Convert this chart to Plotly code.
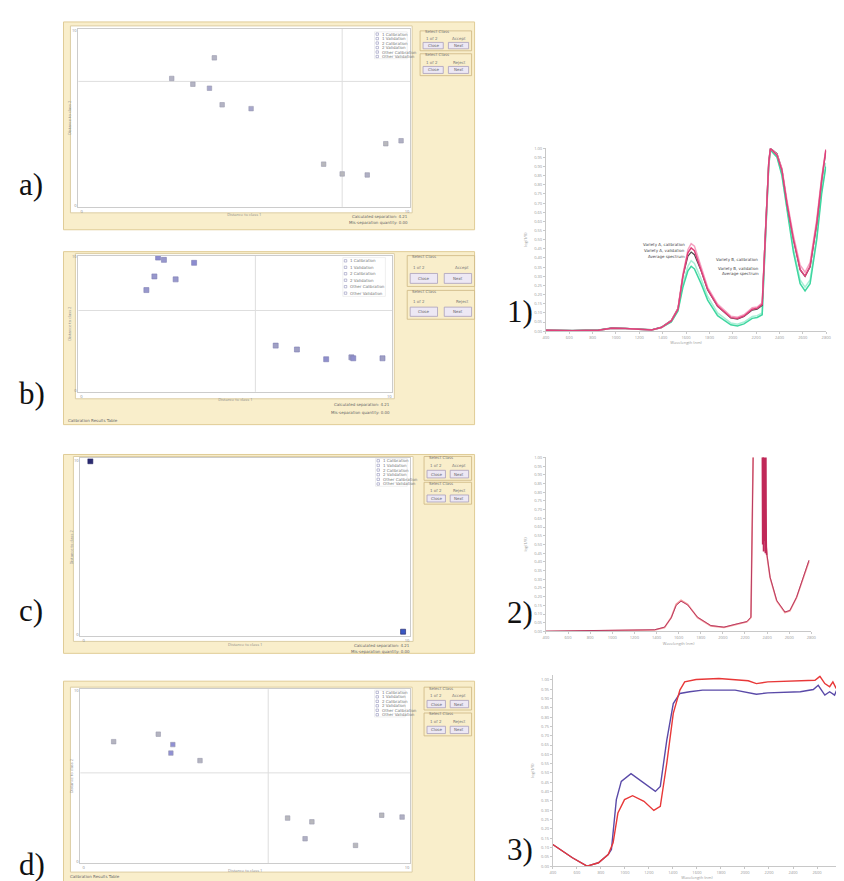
import plotly.graph_objects as go

W, H = 844, 881

# ------------------------------------------------------------------ data
classes = ["1 Calibration", "1 Validation", "2 Calibration", "2 Validation",
           "Other Calibration", "Other Validation"]

# scatter panels: distance to class 1 (x) vs distance to class 2 (y)
a_x = [2.77, 3.42, 3.93, 4.08, 4.32, 5.21, 7.44, 8.01, 8.78, 9.35, 9.82]
a_y = [7.26, 6.93, 6.70, 8.44, 5.75, 5.53, 2.35, 1.79, 1.73, 3.52, 3.69]
a_cls = [0, 0, 1, 0, 0, 1, 2, 2, 3, 2, 3]
a_lim = [8.01, 7.09]

b_x = [2.11, 2.37, 2.49, 2.68, 3.06, 3.66, 6.31, 7.00, 7.95, 8.77, 8.83, 9.78]
b_y = [7.52, 8.54, 9.95, 9.78, 8.32, 9.56, 3.36, 3.07, 2.34, 2.48, 2.41, 2.41]
b_cls = [0, 0, 1, 0, 0, 1, 2, 2, 3, 2, 3, 2]
b_lim = [5.65, 5.99]

c_x = [0.21, 9.88]
c_y = [9.94, 0.17]
c_cls = [0, 3]
c_lim = [None, None]

d_x = [0.93, 2.31, 2.76, 2.70, 3.60, 6.31, 7.06, 6.85, 8.41, 9.22, 9.85]
d_y = [7.02, 7.46, 6.85, 6.35, 5.91, 2.54, 2.32, 1.33, 0.94, 2.71, 2.60]
d_cls = [0, 0, 1, 1, 0, 2, 2, 3, 2, 2, 3]
d_lim = [5.71, 5.19]

# spectrum 1
s1_x = [400, 626, 852, 965, 1078, 1192, 1305, 1389, 1474, 1531, 1573, 1616, 1644,
        1672, 1729, 1785, 1870, 1983, 2040, 2096, 2167, 2209, 2252, 2280, 2308,
        2322, 2379, 2421, 2464, 2520, 2577, 2619, 2662, 2719, 2761, 2797]
s1_magenta = [0.005, 0.002, 0.005, 0.016, 0.014, 0.011, 0.007, 0.020, 0.056, 0.120,
              0.301, 0.428, 0.455, 0.440, 0.337, 0.228, 0.138, 0.074, 0.069, 0.083,
              0.120, 0.125, 0.147, 0.554, 0.917, 0.998, 0.962, 0.880, 0.699, 0.500,
              0.337, 0.301, 0.355, 0.591, 0.826, 0.989]
s1_pink = [0.005, 0.002, 0.005, 0.016, 0.014, 0.011, 0.007, 0.020, 0.058, 0.125,
           0.310, 0.445, 0.478, 0.465, 0.355, 0.240, 0.148, 0.082, 0.076, 0.090,
           0.128, 0.132, 0.155, 0.560, 0.920, 0.998, 0.966, 0.890, 0.715, 0.520,
           0.360, 0.322, 0.375, 0.610, 0.840, 0.995]
s1_dark = [0.006, 0.004, 0.007, 0.018, 0.016, 0.012, 0.008, 0.022, 0.060, 0.125,
           0.300, 0.410, 0.432, 0.418, 0.330, 0.225, 0.135, 0.072, 0.066, 0.080,
           0.115, 0.120, 0.140, 0.560, 0.930, 1.000, 0.970, 0.885, 0.700, 0.500,
           0.335, 0.300, 0.350, 0.585, 0.820, 0.985]
s1_green = [0.005, 0.002, 0.005, 0.016, 0.014, 0.011, 0.007, 0.020, 0.050, 0.110,
            0.240, 0.330, 0.355, 0.340, 0.260, 0.170, 0.085, 0.035, 0.028, 0.040,
            0.070, 0.075, 0.090, 0.500, 0.900, 0.990, 0.950, 0.850, 0.660, 0.430,
            0.260, 0.220, 0.260, 0.500, 0.750, 0.900]
s1_lgreen = [0.005, 0.002, 0.005, 0.016, 0.014, 0.011, 0.007, 0.020, 0.052, 0.115,
             0.260, 0.355, 0.385, 0.370, 0.285, 0.190, 0.100, 0.045, 0.038, 0.050,
             0.080, 0.085, 0.100, 0.510, 0.905, 0.990, 0.955, 0.860, 0.675, 0.450,
             0.280, 0.240, 0.280, 0.520, 0.770, 0.920]

# spectrum 2
s2_x = [400, 937, 1384, 1473, 1533, 1578, 1622, 1682, 1771, 1891, 2010, 2129, 2218,
        2254, 2278, 2353, 2397, 2427, 2487, 2561, 2606, 2666, 2725, 2779]
s2_light = [0.000, 0.005, 0.008, 0.023, 0.080, 0.156, 0.179, 0.156, 0.080, 0.032,
            0.023, 0.042, 0.055, 0.080, 1.200, 1.200, 0.442, 0.309, 0.175, 0.109,
            0.118, 0.194, 0.309, 0.404]
s2_dark = [0.002, 0.006, 0.010, 0.025, 0.078, 0.150, 0.174, 0.152, 0.082, 0.034,
           0.025, 0.044, 0.057, 0.082, 1.200, 1.200, 0.450, 0.312, 0.178, 0.112,
           0.121, 0.196, 0.312, 0.410]
s2_band_x = [2356, 2360, 2364, 2368, 2372, 2376, 2380, 2384, 2388, 2392, 2396]
s2_band_y = [1.20, 0.50, 1.20, 0.46, 1.20, 0.52, 1.20, 0.45, 1.20, 0.48, 0.44]

# spectrum 3
s3r_x = [400, 481, 563, 685, 780, 861, 902, 942, 997, 1064, 1159, 1241, 1295, 1349,
         1403, 1458, 1498, 1593, 1783, 2027, 2095, 2190, 2461, 2583, 2624, 2665,
         2705, 2732, 2759, 2787, 2800]
s3r_y = [0.116, 0.080, 0.045, 0.000, 0.018, 0.062, 0.125, 0.285, 0.357, 0.378, 0.348,
         0.299, 0.321, 0.553, 0.820, 0.945, 0.989, 1.002, 1.007, 0.995, 0.980, 0.989,
         0.995, 0.998, 1.019, 0.980, 0.963, 0.989, 0.954, 1.007, 0.856]
s3b_x = [400, 481, 563, 685, 780, 861, 888, 929, 970, 1051, 1159, 1254, 1295, 1349,
         1403, 1458, 1539, 1647, 1918, 2095, 2190, 2461, 2569, 2610, 2665, 2705,
         2746, 2787, 2800]
s3b_y = [0.116, 0.080, 0.045, 0.000, 0.018, 0.062, 0.089, 0.357, 0.455, 0.496, 0.446,
         0.401, 0.428, 0.677, 0.873, 0.927, 0.936, 0.945, 0.945, 0.923, 0.930, 0.936,
         0.948, 0.971, 0.918, 0.936, 0.918, 0.980, 0.856]

spec_ticks = [400, 600, 800, 1000, 1200, 1400, 1600, 1800, 2000, 2200, 2400, 2600, 2800]

# ------------------------------------------------------------------ helpers
def fx(px):
    return px / W


def fy(py):
    return 1 - py / H


shapes = []
annots = []
TXT = "#8a8a8a"
BEIGE = "#f9eecb"
BEIGE_LINE = "#e0cc96"


def rect(x0, y0, x1, y1, fill, line, width=1):
    shapes.append(dict(type="rect", xref="paper", yref="paper",
                       x0=fx(x0), x1=fx(x1), y0=fy(y1), y1=fy(y0),
                       fillcolor=fill, line=dict(color=line, width=width),
                       layer="below"))


def text(px, py, s, size=4, color=TXT, xa="left", ya="middle", angle=0,
         family="DejaVu Sans"):
    annots.append(dict(x=fx(px), y=fy(py), xref="paper", yref="paper", text=s,
                       showarrow=False, xanchor=xa, yanchor=ya, textangle=angle,
                       font=dict(size=size, color=color, family=family)))


fig = go.Figure()

cls_symbol = {0: "square", 1: "square", 2: "square", 3: "square"}

panels = [
    dict(x=a_x, y=a_y, cls=a_cls, lim=a_lim, frame=(53, 11, 468, 220),
         white=(60, 15, 405, 203), axes=(68, 18, 403, 197), leg=(367, 21, 400, 48),
         ctrl=[(413, 20, 465, 40), (413, 43, 465, 65)], bottom=(403, [207, 213]),
         footer=None, label=("a)", 174), msize=4.5),
    dict(x=b_x, y=b_y, cls=b_cls, lim=b_lim, frame=(53, 242, 468, 416),
         white=(65, 244, 387, 390), axes=(68, 246, 385, 383), leg=(335, 248, 378, 287),
         ctrl=[(400, 246, 468, 277), (400, 281, 468, 310)], bottom=(385, [396, 404]),
         footer=(56, 412), label=("b)", 385), msize=5),
    dict(x=c_x, y=c_y, cls=c_cls, lim=c_lim, frame=(53, 446, 468, 646),
         white=(63, 448, 406, 634), axes=(70, 450, 403, 629), leg=(368, 450, 400, 478),
         ctrl=[(417, 448, 465, 472), (417, 474, 465, 496)], bottom=(405, [638, 644]),
         footer=None, label=("c)", 603), msize=5),
    dict(x=d_x, y=d_y, cls=d_cls, lim=d_lim, frame=(53, 674, 468, 881),
         white=(60, 680, 405, 866), axes=(70, 682, 403, 857), leg=(367, 683, 398, 710),
         ctrl=[(417, 680, 465, 703), (417, 706, 465, 729)], bottom=None,
         footer=(58, 870), label=("d)", 858), msize=4.5),
]
panel_colors = [
    {0: "#b4b4c4", 1: "#a8a8cc", 2: "#b8b8bc", 3: "#b0b0c4"},
    {0: "#9898cc", 1: "#8c8cd0", 2: "#a0a0c4", 3: "#9090cc"},
    {0: "#2a2a70", 1: "#2a2a70", 2: "#3050c0", 3: "#3a58c4"},
    {0: "#b4b4c0", 1: "#9090d4", 2: "#b8b8bc", 3: "#b0b0c4"},
]
panel_edges = ["#9a9aae", "#7e7eb4", "#202060", "#9a9aae"]

layout_axes = {}
for i, p in enumerate(panels, start=1):
    xa = "x" if i == 1 else f"x{i}"
    ya = "y" if i == 1 else f"y{i}"
    fr, wh, ax = p["frame"], p["white"], p["axes"]
    rect(*fr, BEIGE, BEIGE_LINE, 1)
    rect(*wh, "white", "#dccda4", 1)
    cmap = panel_colors[i - 1]
    fig.add_trace(go.Scatter(
        x=p["x"], y=p["y"], mode="markers", xaxis=xa, yaxis=ya, showlegend=False,
        marker=dict(symbol=[cls_symbol[c] for c in p["cls"]],
                    color=[cmap[c] for c in p["cls"]], size=p["msize"],
                    line=dict(width=0.6, color=panel_edges[i - 1]))))
    lx, ly = p["lim"]
    if lx is not None:
        shapes.append(dict(type="line", xref=xa, yref=f"{ya} domain", x0=lx, x1=lx,
                           y0=0, y1=1, line=dict(color="#dedede", width=1), layer="below"))
        shapes.append(dict(type="line", xref=f"{xa} domain", yref=ya, x0=0, x1=1,
                           y0=ly, y1=ly, line=dict(color="#dedede", width=1), layer="below"))
    key_x = "xaxis" if i == 1 else f"xaxis{i}"
    key_y = "yaxis" if i == 1 else f"yaxis{i}"
    layout_axes[key_x] = dict(
        domain=[fx(ax[0]), fx(ax[2])], anchor=ya, range=[-0.1, 10.1],
        showline=True, linecolor="#cccccc", mirror=True, showgrid=False,
        zeroline=False, tickvals=[0, 10], ticks="", tickfont=dict(size=4, color=TXT),
        title=dict(text="Distance to class 1", font=dict(size=4, color=TXT), standoff=0))
    layout_axes[key_y] = dict(
        domain=[fy(ax[3]), fy(ax[1])], anchor=xa, range=[-0.1, 10.1],
        showline=True, linecolor="#cccccc", mirror=True, showgrid=False,
        zeroline=False, tickvals=[0, 10], ticks="", tickfont=dict(size=4, color=TXT),
        title=dict(text="Distance to class 2", font=dict(size=4, color=TXT), standoff=0))
    lg = p["leg"]
    rect(*lg, "white", "#e6e6e6", 0.6)
    step = (lg[3] - lg[1]) / 6.0
    for k, name in enumerate(classes):
        yy = lg[1] + step * (k + 0.5)
        rect(lg[0] + 1.5, yy - 1.2, lg[0] + 4, yy + 1.2, "white", "#9494bc", 0.6)
        text(lg[0] + 5.5, yy, name, size=4, color="#777777")
    for j, (x0, y0, x1, y1) in enumerate(p["ctrl"]):
        rect(x0, y0, x1, y1, BEIGE, "#cdb682", 0.8)
        h = y1 - y0
        w = x1 - x0
        text(x0 + 3, y0 + 1, "Select Class", size=4, color="#777")
        text(x0 + 4, y0 + h * 0.38, "1 of 2", size=4, color="#777")
        text(x1 - 4, y0 + h * 0.38, "Accept" if j == 0 else "Reject", size=4,
             color="#777", xa="right")
        by0, by1 = y0 + h * 0.58, y0 + h * 0.9
        rect(x0 + 3, by0, x0 + w * 0.45, by1, "#ede8f4", "#aaa0bc", 0.8)
        rect(x0 + w * 0.55, by0, x1 - 3, by1, "#ede8f4", "#aaa0bc", 0.8)
        text((x0 + 3 + x0 + w * 0.45) / 2, (by0 + by1) / 2, "Close", size=4,
             color="#666", xa="center")
        text((x0 + w * 0.55 + x1 - 3) / 2, (by0 + by1) / 2, "Next", size=4,
             color="#666", xa="center")
    if p["bottom"] is not None:
        bx, bys = p["bottom"]
        text(bx, bys[0], "Calculated separation: 4.21", size=4, color="#666", xa="right")
        text(bx, bys[1], "Mis-separation quantity: 0.00", size=4, color="#666", xa="right")
    if p["footer"] is not None:
        text(p["footer"][0], p["footer"][1], "Calibration Results Table", size=4,
             color="#666")
    lab, ly_ = p["label"]
    text(6, ly_, lab, size=31, color="#111", family="Liberation Serif")

# ------------------------------------------------------------------ spectra
spec = [
    dict(domx=(540, 823), domy=(138, 322), rng=[0, 1.0],
         lines=[(s1_x, s1_lgreen, "#a8f0d6", 1.5), (s1_x, s1_green, "#3fd6a0", 1.5),
                (s1_x, s1_dark, "#4a4a4a", 1.2), (s1_x, s1_pink, "#f5a0c0", 1.5),
                (s1_x, s1_magenta, "#e0407a", 1.5)],
         label=("1)", 302)),
    dict(domx=(540, 808), domy=(449, 624), rng=[0, 1.0],
         lines=[(s2_x, s2_light, "#f49a9a", 1.6), (s2_x, s2_dark, "#b83a62", 1.0),
                (s2_band_x, s2_band_y, "#c02858", 1.6)],
         label=("2)", 605)),
    dict(domx=(547, 838), domy=(668, 860), rng=[0, 1.025],
         lines=[(s3b_x, s3b_y, "#5a4aa8", 1.4), (s3r_x, s3r_y, "#e83838", 1.4)],
         label=("3)", 843)),
]
for k, s in enumerate(spec, start=5):
    xa, ya = f"x{k}", f"y{k}"
    for (xx, yy, col, wd) in s["lines"]:
        fig.add_trace(go.Scatter(x=xx, y=yy, mode="lines", xaxis=xa, yaxis=ya,
                                 showlegend=False, line=dict(color=col, width=wd)))
    layout_axes[f"xaxis{k}"] = dict(
        domain=[fx(s["domx"][0]), fx(s["domx"][1])], anchor=ya, range=[400, 2800],
        showline=True, linecolor="#c8c8c8", showgrid=False, zeroline=False,
        tickvals=spec_ticks, ticks="outside", ticklen=2, tickcolor="#c8c8c8",
        tickfont=dict(size=4, color="#999"),
        title=dict(text="Wavelength (nm)", font=dict(size=4, color="#999"), standoff=2))
    layout_axes[f"yaxis{k}"] = dict(
        domain=[fy(s["domy"][1]), fy(s["domy"][0])], anchor=xa, range=s["rng"],
        showline=True, linecolor="#c8c8c8", showgrid=False, zeroline=False,
        dtick=0.05, tickformat=".2f", ticks="outside", ticklen=2, tickcolor="#c8c8c8",
        tickfont=dict(size=4, color="#999"),
        title=dict(text="log(1/R)", font=dict(size=4, color="#999"), standoff=6))
    lab, ly_ = s["label"]
    text(499, ly_, lab, size=31, color="#111", family="Liberation Serif")

# peak annotations on spectrum 1
text(682, 235, "Variety A, calibration", size=4, color="#444", xa="right")
text(682, 241, "Variety A, validation", size=4, color="#444", xa="right")
text(682, 247, "Average spectrum", size=4, color="#444", xa="right")
text(710, 250, "Variety B, calibration", size=4, color="#444")
text(757, 259, "Variety B, validation", size=4, color="#444", xa="right")
text(757, 264, "Average spectrum", size=4, color="#444", xa="right")

fig.update_layout(
    width=W, height=H, margin=dict(l=0, r=0, t=0, b=0),
    paper_bgcolor="white", plot_bgcolor="rgba(0,0,0,0)",
    showlegend=False, shapes=shapes, annotations=annots, **layout_axes)

fig.write_html("out.html")
